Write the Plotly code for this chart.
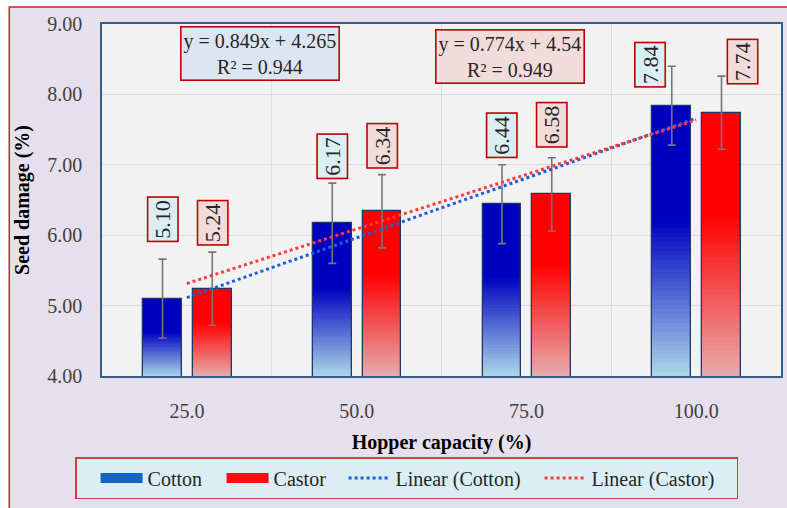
import numpy as np
import plotly.graph_objects as go

# ---------------- data ----------------
categories = ["25.0", "50.0", "75.0", "100.0"]
cotton = [5.10, 6.17, 6.44, 7.84]
castor = [5.24, 6.34, 6.58, 7.74]
cotton_err = [0.56, 0.57, 0.56, 0.56]
castor_err = [0.52, 0.52, 0.52, 0.52]
cotton_eq = "y = 0.849x + 4.265<br>R² = 0.944"
castor_eq = "y = 0.774x + 4.54<br>R² = 0.949"
y_ticks = [4, 5, 6, 7, 8, 9]

# ---------------- layout constants ----------------
FONT = "Liberation Serif"
YMIN, YMAX = 4, 9
xnum = list(range(1, len(categories) + 1))
BAR_W = 0.229
OFF_COT = -0.258
OFF_CAS = 0.035
# label placement (y centre in data units, x shift in data units)
cot_label_y = [6.22, 7.125, 7.42, 8.42]
cas_label_y = [6.18, 7.27, 7.565, 8.46]
cot_label_dx = [0, 0, 0, -0.129]
cas_label_dx = [0, 0, 0, 0.124]

cot_stops = [(0.0, (0, 0, 192)), (0.42, (0, 0, 192)), (1.0, (173, 216, 232))]
cas_stops = [(0.0, (255, 0, 0)), (0.38, (255, 0, 0)), (1.0, (230, 172, 172))]


def grad(stops, t):
    for (t0, c0), (t1, c1) in zip(stops[:-1], stops[1:]):
        if t0 <= t <= t1:
            f = 0 if t1 == t0 else (t - t0) / (t1 - t0)
            c = [round(a + (b - a) * f) for a, b in zip(c0, c1)]
            return "rgb(%d,%d,%d)" % tuple(c)
    return "rgb(%d,%d,%d)" % stops[-1][1]


def gradient_trace(vals, stops, offset, N=60):
    xs, bases, hs, cols = [], [], [], []
    for x, v in zip(xnum, vals):
        h = (v - YMIN) / N
        for k in range(N):
            xs.append(x)
            bases.append(YMIN + k * h - 0.2 * h)
            hs.append(h * 1.2)
            t = 1 - (k + 0.5) / N
            cols.append(grad(stops, t))
    return go.Bar(x=xs, y=hs, base=bases, width=BAR_W, offset=offset,
                  marker=dict(color=cols, line=dict(width=0)),
                  showlegend=False, hoverinfo="skip")


fig = go.Figure()
fig.add_trace(gradient_trace(cotton, cot_stops, OFF_COT))
fig.add_trace(gradient_trace(castor, cas_stops, OFF_CAS))

for vals, err, off in [(cotton, cotton_err, OFF_COT), (castor, castor_err, OFF_CAS)]:
    fig.add_trace(go.Bar(
        x=xnum, y=vals, width=BAR_W, offset=off,
        marker=dict(color="rgba(0,0,0,0)", line=dict(color="#1F3864", width=1.3)),
        error_y=dict(type="data", array=err, color="#767676", thickness=1.6, width=4),
        showlegend=False, hoverinfo="skip"))

# legend-only swatches (wide rectangular swatches)
fig.add_trace(go.Scatter(x=[None], y=[None], mode="lines", name="Cotton", legendwidth=50,
                         line=dict(color="#1464C0", width=11)))
fig.add_trace(go.Scatter(x=[None], y=[None], mode="lines", name="Castor", legendwidth=46,
                         line=dict(color="#F41010", width=11)))

# linear trendlines
for vals, name, col, lw in [(cotton, "Linear (Cotton)", "#1F5CDC", 120),
                            (castor, "Linear (Castor)", "#FF3B3B", 140)]:
    m, b = np.polyfit(xnum, vals, 1)
    xs = [xnum[0], xnum[-1]]
    fig.add_trace(go.Scatter(x=xs, y=[m * x + b for x in xs], mode="lines", name=name,
                             legendwidth=lw,
                             line=dict(color=col, width=3, dash="dot"), hoverinfo="skip"))

# value labels
ann = []
for vals, ly, dx, off, bg in [(cotton, cot_label_y, cot_label_dx, OFF_COT, "#DAEEF3"),
                              (castor, cas_label_y, cas_label_dx, OFF_CAS, "#F2DCDB")]:
    for x, v, y, d in zip(xnum, vals, ly, dx):
        ann.append(dict(x=x + off + BAR_W / 2 + d, y=y, xref="x", yref="y",
                        xanchor="center", yanchor="middle",
                        text="%.2f" % v, textangle=-90, showarrow=False,
                        font=dict(family=FONT, size=22, color="#262626"),
                        bgcolor=bg, bordercolor="#C00000", borderwidth=1.6, borderpad=2))

ann.append(dict(x=0.2327, y=0.916, xref="paper", yref="paper", text=cotton_eq,
                xanchor="center", yanchor="middle",
                showarrow=False, font=dict(family=FONT, size=20, color="#262626"),
                bgcolor="#DCE6F2", bordercolor="#C00000", borderwidth=1.6, borderpad=2))
ann.append(dict(x=0.6006, y=0.909, xref="paper", yref="paper", text=castor_eq,
                xanchor="center", yanchor="middle",
                showarrow=False, font=dict(family=FONT, size=20, color="#262626"),
                bgcolor="#F2DCDB", bordercolor="#C00000", borderwidth=1.6, borderpad=2))

L, R, T, B = 102, 4, 24, 132
W, H = 787, 508
pw, ph = W - L - R, H - T - B


def px(x):
    return (x - L) / pw


def py(y):
    return (H - B - y) / ph


shapes = [
    dict(type="rect", xref="paper", yref="paper", x0=px(9), x1=px(800), y0=py(530), y1=py(7),
         fillcolor="#E6E0EC", line=dict(color="#D02020", width=1.5), layer="below"),
    dict(type="rect", xref="paper", yref="paper", x0=0, x1=1, y0=0, y1=1,
         fillcolor="#F2F2F2", line=dict(width=0), layer="below"),
]

fig.update_layout(
    width=W, height=H,
    margin=dict(l=L, r=R, t=T, b=B),
    paper_bgcolor="white", plot_bgcolor="#F2F2F2",
    barmode="overlay", bargap=0,
    font=dict(family=FONT, size=20, color="#262626"),
    shapes=shapes, annotations=ann,
    xaxis=dict(range=[0.5, 4.5], tickvals=xnum, ticktext=categories,
               showgrid=False, zeroline=False, ticks="", ticklabelstandoff=16,
               tickfont=dict(family=FONT, size=20, color="#404040"),
               showline=True, mirror=True, linecolor="#385D8A", linewidth=1.5,
               minor=dict(tickvals=[1.5, 2.5, 3.5], showgrid=True, gridcolor="#DCDCDC",
                          gridwidth=1, ticks=""),
               title=dict(text="<b>Hopper capacity (%)</b>", standoff=14,
                          font=dict(family=FONT, size=20, color="black"))),
    yaxis=dict(range=[YMIN, YMAX], tickvals=y_ticks, tickformat=".2f",
               showgrid=True, gridcolor="#DCDCDC", gridwidth=1, zeroline=False, ticks="",
               ticklabelstandoff=14,
               tickfont=dict(family=FONT, size=20, color="#404040"),
               showline=True, mirror=True, linecolor="#385D8A", linewidth=1.5,
               title=dict(text="<b>Seed damage (%)</b>", standoff=12,
                          font=dict(family=FONT, size=20, color="black"))),
    legend=dict(orientation="h", x=px(75), y=py(457), xanchor="left", yanchor="top",
                bgcolor="#DAEEF3", bordercolor="#D04040", borderwidth=1.5, itemwidth=42,
                indentation=19,
                font=dict(family=FONT, size=20, color="#262626"), traceorder="normal"),
)

fig.write_html("out.html", config={"displayModeBar": False},
               post_script="document.body.style.margin='0px';")
